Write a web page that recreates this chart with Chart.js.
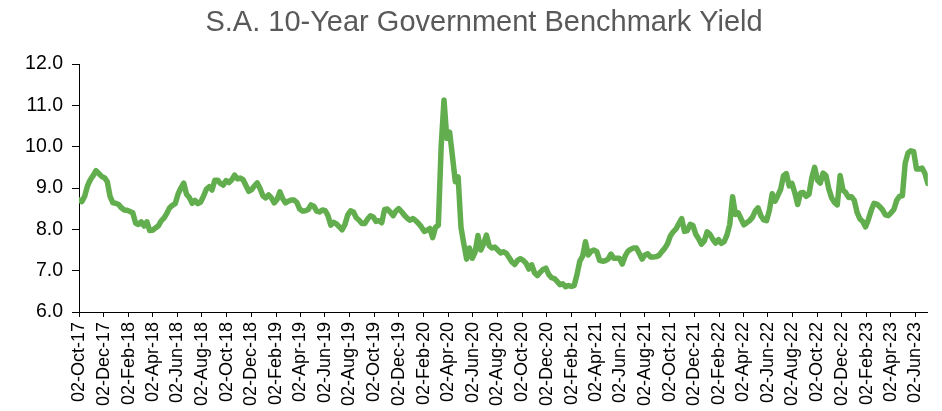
<!DOCTYPE html>
<html>
<head>
<meta charset="utf-8">
<script src="https://cdn.jsdelivr.net/npm/chart.js@4/dist/chart.umd.min.js"></script>
<style>
  html, body { margin: 0; padding: 0; background: #fff; }
  #wrap { width: 942px; height: 411px; position: relative; }
</style>
</head>
<body>
<div id="wrap"><canvas id="c"></canvas></div>
<script>
// Weekly observations of the SA 10-year benchmark yield (%), one per Monday
const seriesStart = '2017-10-02';
const yields = [
  8.71, 8.67, 8.80, 9.05, 9.20, 9.30, 9.42, 9.35, 9.28, 9.25,
  9.15, 8.79, 8.64, 8.63, 8.60, 8.52, 8.47, 8.46, 8.43, 8.40,
  8.15, 8.12, 8.18, 8.08, 8.18, 7.97, 7.98, 8.03, 8.08, 8.20,
  8.27, 8.38, 8.52, 8.58, 8.62, 8.85, 9.00, 9.12, 8.85, 8.77,
  8.63, 8.70, 8.62, 8.66, 8.80, 8.97, 9.03, 8.95, 9.19, 9.19,
  9.11, 9.07, 9.18, 9.13, 9.20, 9.31, 9.22, 9.24, 9.20, 9.06,
  8.92, 8.96, 9.05, 9.12, 8.99, 8.81, 8.76, 8.83, 8.76, 8.64,
  8.72, 8.91, 8.74, 8.64, 8.68, 8.71, 8.71, 8.65, 8.49, 8.44,
  8.45, 8.48, 8.59, 8.56, 8.44, 8.42, 8.47, 8.45, 8.33, 8.10,
  8.17, 8.13, 8.06, 7.99, 8.12, 8.35, 8.45, 8.42, 8.28, 8.22,
  8.14, 8.14, 8.25, 8.33, 8.30, 8.19, 8.21, 8.16, 8.48, 8.49,
  8.42, 8.33, 8.44, 8.50, 8.43, 8.34, 8.27, 8.22, 8.26, 8.21,
  8.14, 8.06, 7.95, 7.98, 8.02, 7.80, 8.05, 8.10, 10.00, 11.13,
  10.20, 10.35, 9.76, 9.15, 9.27, 8.05, 7.65, 7.28, 7.55, 7.30,
  7.45, 7.85, 7.50, 7.65, 7.86, 7.60, 7.55, 7.57, 7.50, 7.43,
  7.46, 7.42, 7.32, 7.21, 7.15, 7.25, 7.29, 7.25, 7.18, 7.04,
  7.14, 6.95, 6.88, 6.96, 7.03, 7.06, 6.91, 6.83, 6.81, 6.74,
  6.66, 6.68, 6.61, 6.64, 6.62, 6.64, 6.90, 7.23, 7.35, 7.70,
  7.38, 7.47, 7.50, 7.46, 7.25, 7.23, 7.24, 7.28, 7.40, 7.30,
  7.30, 7.30, 7.16, 7.35, 7.47, 7.52, 7.55, 7.55, 7.42, 7.28,
  7.38, 7.41, 7.33, 7.33, 7.34, 7.37, 7.46, 7.54, 7.65, 7.84,
  7.94, 8.01, 8.14, 8.26, 7.95, 7.97, 8.12, 8.09, 7.88, 7.77,
  7.64, 7.72, 7.94, 7.88, 7.76, 7.67, 7.75, 7.66, 7.70, 7.86,
  8.12, 8.79, 8.36, 8.40, 8.25, 8.11, 8.16, 8.21, 8.29, 8.44,
  8.52, 8.33, 8.23, 8.21, 8.46, 8.86, 8.68, 8.82, 8.97, 9.30,
  9.35, 9.05, 9.11, 8.88, 8.60, 8.88, 8.89, 8.80, 8.85, 9.25,
  9.50, 9.19, 9.12, 9.36, 9.30, 8.98, 8.76, 8.65, 8.59, 9.30,
  8.95, 8.89, 8.77, 8.79, 8.70, 8.41, 8.25, 8.19, 8.06, 8.24,
  8.46, 8.63, 8.61, 8.55, 8.47, 8.35, 8.33, 8.40, 8.48, 8.70,
  8.80, 8.81, 9.60, 9.85, 9.90, 9.88, 9.46, 9.46, 9.48, 9.35,
  9.11
];

// Date-axis labels, every two months
const tickLabels = [
  '02-Oct-17', '02-Dec-17', '02-Feb-18', '02-Apr-18', '02-Jun-18', '02-Aug-18',
  '02-Oct-18', '02-Dec-18', '02-Feb-19', '02-Apr-19', '02-Jun-19', '02-Aug-19',
  '02-Oct-19', '02-Dec-19', '02-Feb-20', '02-Apr-20', '02-Jun-20', '02-Aug-20',
  '02-Oct-20', '02-Dec-20', '02-Feb-21', '02-Apr-21', '02-Jun-21', '02-Aug-21',
  '02-Oct-21', '02-Dec-21', '02-Feb-22', '02-Apr-22', '02-Jun-22', '02-Aug-22',
  '02-Oct-22', '02-Dec-22', '02-Feb-23', '02-Apr-23', '02-Jun-23'
];

const titleText = 'S.A. 10-Year Government Benchmark Yield';

const MONTHS = ['Jan','Feb','Mar','Apr','May','Jun','Jul','Aug','Sep','Oct','Nov','Dec'];
const DAY = 86400000;
const startMs = Date.parse(seriesStart + 'T00:00:00Z');

function labelToDay(lbl) {
  const [d, m, y] = lbl.split('-');
  const ms = Date.UTC(2000 + Number(y), MONTHS.indexOf(m), Number(d));
  return Math.round((ms - startMs) / DAY);
}
const tickDays = tickLabels.map(labelToDay);
const dayToLabel = new Map(tickDays.map((d, i) => [d, tickLabels[i]]));

const points = yields.map((v, i) => ({ x: i * 7, y: v }));

const FONT = "'Liberation Sans', Arial, sans-serif";

// Title drawn centred above the plot
const titlePlugin = {
  id: 'chartTitle',
  afterDraw(chart) {
    const ctx = chart.ctx;
    ctx.save();
    ctx.font = "29px " + FONT;
    ctx.fillStyle = '#595959';
    ctx.textAlign = 'center';
    ctx.textBaseline = 'alphabetic';
    ctx.fillText(titleText, 484, 31);
    ctx.restore();
  }
};

new Chart(document.getElementById('c'), {
  type: 'line',
  data: {
    datasets: [{
      data: points,
      borderColor: '#62AE4E',
      borderWidth: 5.5,
      pointRadius: 0,
      tension: 0,
      borderJoinStyle: 'round',
      borderCapStyle: 'round',
      fill: false
    }]
  },
  options: {
    responsive: true,
    maintainAspectRatio: false,
    animation: false,
    layout: { padding: { top: 64, right: 7, left: 0, bottom: 0 } },
    plugins: {
      legend: { display: false },
      title: { display: false },
      tooltip: { enabled: false }
    },
    scales: {
      x: {
        type: 'linear',
        min: 0,
        max: (yields.length - 1) * 7,
        afterBuildTicks(scale) {
          scale.ticks = tickDays.map(v => ({ value: v }));
        },
        afterFit(scale) { scale.height = 99; },
        ticks: {
          autoSkip: false,
          minRotation: 90,
          maxRotation: 90,
          padding: 5,
          color: '#000',
          font: { family: FONT, size: 18 },
          callback: (v) => dayToLabel.get(v) || ''
        },
        grid: { display: true, drawOnChartArea: false, drawTicks: true, tickLength: 5, color: '#000' },
        border: { display: true, color: '#000', width: 1 }
      },
      y: {
        min: 6,
        max: 12,
        afterFit(scale) { scale.width = 79; },
        ticks: {
          stepSize: 1,
          padding: 9,
          color: '#000',
          font: { family: FONT, size: 19.5 },
          callback: (v) => Number(v).toFixed(1)
        },
        grid: { display: true, drawOnChartArea: false, drawTicks: true, tickLength: 7, color: '#000' },
        border: { display: true, color: '#000', width: 1 }
      }
    }
  },
  plugins: [titlePlugin]
});
</script>
</body>
</html>
